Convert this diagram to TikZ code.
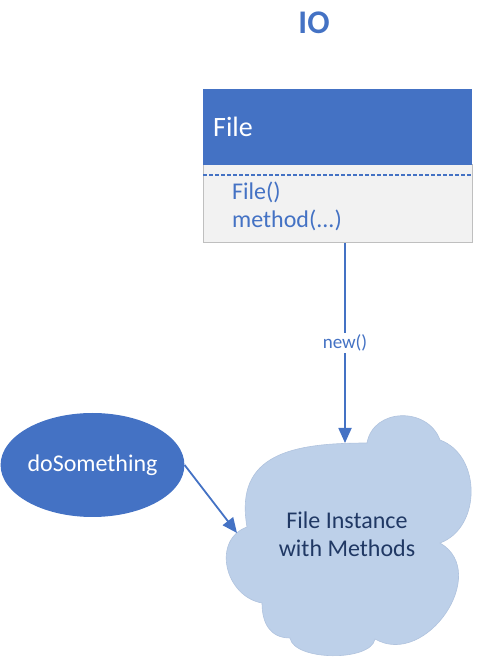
\documentclass[tikz,border=0pt]{standalone}
\usepackage{fontspec}
\setmainfont{Carlito}
\usetikzlibrary{arrows.meta,shapes.geometric}
\definecolor{msblue}{HTML}{4472C4}
\definecolor{boxgrey}{HTML}{F2F2F2}
\definecolor{boxline}{HTML}{BFBFBF}
\definecolor{cloudfill}{HTML}{BDD0E9}
\definecolor{cloudline}{HTML}{B0C3DE}
\definecolor{navy}{HTML}{203864}
\tikzset{
  conn/.style={draw=msblue,line width=1.8pt,-{Triangle[length=15pt,width=13pt]}},
  memb/.style={anchor=base west,text=msblue,font=\fontsize{24}{28}\selectfont,inner sep=0pt},
}
\begin{document}
\begin{tikzpicture}[x=1pt,y=1pt]
\useasboundingbox (0,0) rectangle (481,659);
% title
\node[text=msblue,font=\fontsize{33}{36}\selectfont\bfseries] (title) at (314,636.5) {IO};
% class box
\node[draw=boxline,line width=0.8pt,fill=boxgrey,minimum width=269pt,minimum height=78pt,inner sep=0pt,anchor=south west] (lower) at (203,416) {};
\node[fill=msblue,minimum width=269pt,minimum height=76pt,inner sep=0pt,anchor=south west] (head) at (203,494) {};
\draw[draw=msblue,line width=1.2pt,dash pattern=on 4pt off 2pt] (head.south west) ++(0,-10) coordinate (dl) -- (dl -| head.south east);
\node[anchor=base west,text=white,font=\fontsize{28}{32}\selectfont,inner sep=0pt] (hname) at (213,522) {File};
\node[memb] (m1) at (232,459) {File()};
\node[memb] (m2) at (232,431) {method(...)};
% cloud
\draw[fill=cloudfill,draw=cloudline,line width=0.6pt]
  (247,132) coordinate (n1)
  to[out=100,in=180,looseness=1.3] (367,216) coordinate (n2)
  to[out=80,in=110,looseness=1.25] (440,219) coordinate (n3)
  to[out=-20,in=20,looseness=1.1] (440,116) coordinate (n4)
  to[out=-30,in=-30,looseness=1.3] (375,20) coordinate (n6)
  to[out=-100,in=-80,looseness=0.7] (290,21) coordinate (n7)
  to[out=180,in=-90,looseness=1.14] (262,56) coordinate (n8)
  to[out=170,in=-160,looseness=1.25] (n1) -- cycle;
\node[text=navy,font=\fontsize{24}{28}\selectfont,align=center] (inst) at (347,125) {File Instance\\with Methods};
\coordinate (tip1) at (345,216);
\coordinate (tip2) at (237,126);
% ellipse
\node[ellipse,fill=msblue,minimum width=178pt,minimum height=104pt,inner sep=0pt,text=white,font=\fontsize{24}{28}\selectfont] (do) at (92.5,194) {doSomething};
% connectors
\draw[conn] (lower.south -| tip1) -- node[fill=white,text=msblue,font=\fontsize{19}{22}\selectfont,inner sep=1.5pt,pos=0.5] (newlbl) {new()} (tip1);
\draw[conn] (do.east) -- (tip2);
\end{tikzpicture}
\end{document}
